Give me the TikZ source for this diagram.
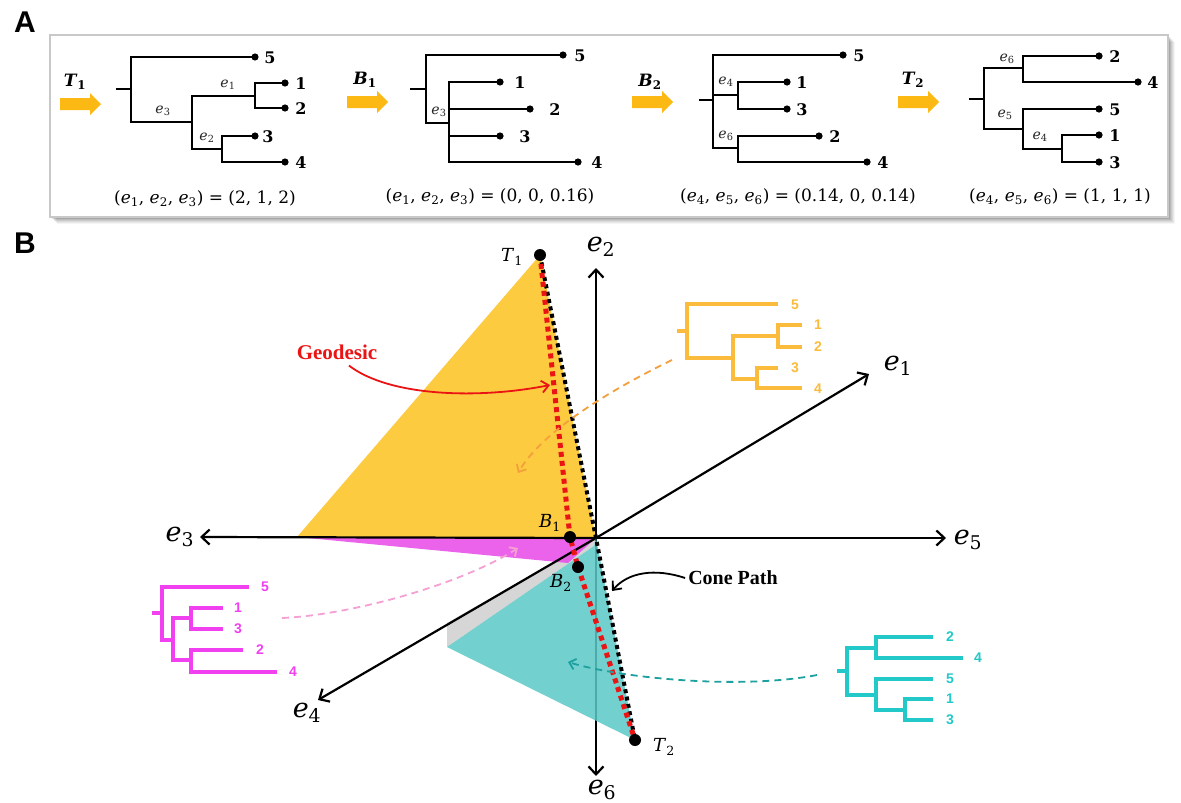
\documentclass[tikz,border=0pt]{standalone}
\usepackage{fontspec}
\setmainfont{DejaVu Serif}
\newfontfamily\hfont{Liberation Sans}
\newfontfamily\tfont{Liberation Serif}
\usetikzlibrary{arrows.meta}
\definecolor{arrowyellow}{RGB}{253,185,19}
\definecolor{yelfill}{RGB}{253,203,64}
\definecolor{magfill}{RGB}{233,78,233}
\definecolor{grayfill}{RGB}{214,214,214}
\definecolor{tealfill}{RGB}{90,201,199}
\definecolor{geored}{RGB}{235,20,20}
\definecolor{otree}{RGB}{251,187,60}
\definecolor{odash}{RGB}{243,160,60}
\definecolor{mtree}{RGB}{240,64,240}
\definecolor{mdash}{RGB}{245,160,210}
\definecolor{ttree}{RGB}{35,200,200}
\definecolor{tdash}{RGB}{30,160,160}
\definecolor{boxedge}{RGB}{200,200,200}
\newcommand\ev[1]{\textit{e}\textsubscript{#1}}
\newcommand\vr[2]{\textit{#1}\textsubscript{#2}}
\newcommand\Aleaf[5]{\fill (#2,#3) circle[radius=3.6];
  \node[leafA] (#1) at (#4,#3+1) {#5};}
\begin{document}
\begin{tikzpicture}[x=1pt,y=-1pt,line join=miter,
  treeA/.style={line width=2.8pt,black},
  leafA/.style={font=\fontsize{16}{16}\selectfont\bfseries,inner sep=0pt},
  elab/.style={font=\fontsize{14}{14}\selectfont,inner sep=0pt,text=black!85},
  capt/.style={font=\fontsize{17}{17}\selectfont,inner sep=0pt},
  steplab/.style={font=\fontsize{17}{17}\selectfont\bfseries,inner sep=0pt},
  panel/.style={font=\hfont\bfseries\fontsize{30}{30}\selectfont,inner sep=0pt},
  axisarr/.style={line width=2.2pt,-{Straight Barb[length=8pt,width=15pt]}},
  axlab/.style={font=\fontsize{27}{27}\selectfont,inner sep=0pt},
  treeB/.style={line width=3.2pt},
  leafB/.style={font=\hfont\bfseries\fontsize{14}{14}\selectfont,inner sep=0pt},
  bdot/.style={circle,fill=black,inner sep=0pt,minimum size=12pt},
  ptlab/.style={font=\fontsize{18}{18}\selectfont,inner sep=0pt},
  dasharr/.style={line width=1.8pt,dash pattern=on 7pt off 5pt,-{Straight Barb[length=6pt,width=11pt]}},
  blockarr/.pic={\fill[arrowyellow] (0,-6) -- (30,-6) -- (30,-11) -- (41,0) -- (30,11) -- (30,6) -- (0,6) -- cycle;}
]
\useasboundingbox (0,0) rectangle (1181,803);
\fill[white] (0,0) rectangle (1181,803);

%================ Panel A =================
\node[panel] (lA) at (25,22) {A};
\foreach \i/\o in {7/0.04,6/0.05,5/0.06,4/0.07,3/0.08,2/0.1}
  {\fill[black,opacity=\o] (50+\i,35+\i) rectangle (1168+\i,217+\i);}
\draw[boxedge,fill=white,line width=1.2pt] (50,35) rectangle (1168,217);

% step arrows and labels
\pic at (60,104) {blockarr};
\node[steplab] (sT1) at (75,82) {\vr{T}{1}};
\pic at (347,102) {blockarr};
\node[steplab] (sB1) at (365,80) {\vr{B}{1}};
\pic at (632,102) {blockarr};
\node[steplab] (sB2) at (650,82) {\vr{B}{2}};
\pic at (898,102) {blockarr};
\node[steplab] (sT2) at (913,80) {\vr{T}{2}};

% tree T1
\draw[treeA] (116,89) -- (131,89);
\draw[treeA] (255,57) -| (131,122) -- (192,122);
\draw[treeA] (255,96) -| (192,149) -- (222,149);
\draw[treeA] (285,83) -| (255,108) -- (285,108);
\draw[treeA] (255,136) -| (222,162) -- (285,162);
\Aleaf{a5}{255}{57}{270}{5}
\Aleaf{a1}{285}{83}{301}{1}
\Aleaf{a2}{285}{108}{301}{2}
\Aleaf{a3}{255}{136}{268}{3}
\Aleaf{a4}{285}{162}{301}{4}
\node[elab] (ae1) at (228,85) {\ev1};
\node[elab] (ae3) at (163,111) {\ev3};
\node[elab] (ae2) at (207,138) {\ev2};
\node[capt] (capA) at (205,199) {(\ev1, \ev2, \ev3) = (2, 1, 2)};

% tree B1
\draw[treeA] (410,89) -- (426,89);
\draw[treeA] (563,55) -| (426,123) -- (449,123);
\draw[treeA] (500,82) -| (449,162) -- (578,162);
\draw[treeA] (449,109) -- (530,109);
\draw[treeA] (449,136) -- (500,136);
\Aleaf{b5}{563}{55}{580}{5}
\Aleaf{b1}{500}{82}{520}{1}
\Aleaf{b2}{530}{109}{555}{2}
\Aleaf{b3}{500}{136}{525}{3}
\Aleaf{b4}{578}{162}{597}{4}
\node[elab] (be3) at (439,112) {\ev3};
\node[capt] (capB) at (490,197) {(\ev1, \ev2, \ev3) = (0, 0, 0.16)};

% tree B2
\draw[treeA] (699,100) -- (713,100);
\draw[treeA] (843,55) -| (713,148) -- (738,148);
\draw[treeA] (713,95) -- (738,95);
\draw[treeA] (787,82) -| (738,109) -- (787,109);
\draw[treeA] (819,136) -| (738,162) -- (867,162);
\Aleaf{c5}{843}{55}{859}{5}
\Aleaf{c1}{787}{82}{802}{1}
\Aleaf{c3}{787}{109}{802}{3}
\Aleaf{c2}{819}{136}{835}{2}
\Aleaf{c4}{867}{162}{883}{4}
\node[elab] (ce4) at (726,82) {\ev4};
\node[elab] (ce6) at (726,136) {\ev6};
\node[capt] (capC) at (798,197) {(\ev4, \ev5, \ev6) = (0.14, 0, 0.14)};

% tree T2
\draw[treeA] (969,99) -- (984,99);
\draw[treeA] (1023,68) -| (984,129) -- (1023,129);
\draw[treeA] (1099,56) -| (1023,82) -- (1138,82);
\draw[treeA] (1099,109) -| (1023,149) -- (1062,149);
\draw[treeA] (1099,135) -| (1062,162) -- (1099,162);
\Aleaf{d2}{1099}{56}{1115}{2}
\Aleaf{d4}{1138}{82}{1153}{4}
\Aleaf{d5}{1099}{109}{1115}{5}
\Aleaf{d1}{1099}{135}{1115}{1}
\Aleaf{d3}{1099}{162}{1115}{3}
\node[elab] (de6) at (1007,59) {\ev6};
\node[elab] (de5) at (1005,115) {\ev5};
\node[elab] (de4) at (1040,137) {\ev4};
\node[capt] (capD) at (1060,197) {(\ev4, \ev5, \ev6) = (1, 1, 1)};

%================ Panel B =================
\node[panel] (lB) at (25,243) {B};
\coordinate (O) at (596,538);
\coordinate (E2) at (596,268);
\coordinate (E6) at (596,776);
\coordinate (E3) at (200,537);
\coordinate (E5) at (946,538);
\coordinate (E1) at (869,374);
\coordinate (E4) at (318,700);
\coordinate (t1) at (540,255);
\coordinate (b1) at (570,537);
\coordinate (b2) at (578,567);
\coordinate (t2) at (635,740);
\coordinate (yl) at (297,537);
\coordinate (mt) at (568,563);
\coordinate (gl) at (447,623);
\coordinate (tl) at (447,647);
\coordinate (tt) at (594,546);

% regions
\fill[yelfill] (t1) -- (yl) -- (O) -- cycle;
\fill[grayfill] (O) -- (gl) -- (tl) -- (tt) -- cycle;
\fill[magfill,fill opacity=0.88] (yl) -- (O) -- (mt) -- cycle;

% axes
\draw[axisarr] (O) -- (E2);
\draw[axisarr] (O) -- (E6);
\draw[axisarr] (O) -- (E3);
\draw[axisarr] (O) -- (E5);
\draw[axisarr] (O) -- (E1);
\draw[axisarr] (O) -- (E4);
\node[axlab] (le2) at (601,247) {\ev2};
\node[axlab] (le6) at (602,790) {\ev6};
\node[axlab] (le3) at (180,537) {\ev3};
\node[axlab] (le5) at (968,540) {\ev5};
\node[axlab] (le1) at (898,366) {\ev1};
\node[axlab] (le4) at (307,713) {\ev4};

\fill[tealfill,fill opacity=0.85] (tl) -- (tt) -- (O) -- (t2) -- cycle;

% paths
\draw[black,line width=4pt,dash pattern=on 4pt off 3.5pt] (t1) -- (O) -- (t2);
\draw[geored,line width=5pt,dash pattern=on 5pt off 4pt] (t1) -- (b1) -- (b2) -- (t2);
\node[bdot] (T1) at (t1) {};
\node[bdot] (B1) at (b1) {};
\node[bdot] (B2) at (b2) {};
\node[bdot] (T2) at (t2) {};
\node[ptlab] (lT1) at (512,257) {\vr{T}{1}};
\node[ptlab] (lB1) at (550,523) {\vr{B}{1}};
\node[ptlab] (lB2) at (561,583) {\vr{B}{2}};
\node[ptlab] (lT2) at (664,747) {\vr{T}{2}};

% labels with arrows
\node[font=\tfont\bfseries\fontsize{21}{21}\selectfont,text=geored,inner sep=0pt] (geolab) at (337,352) {Geodesic};
\coordinate (geoend) at (550,385);
\draw[geored,line width=1.8pt,-{Straight Barb[length=7pt,width=12pt]}]
  ([shift={(12,6)}]geolab.south) .. controls (390,397) and (480,399) .. (geoend);
\node[font=\tfont\bfseries\fontsize{20}{20}\selectfont,inner sep=0pt] (conelab) at (733,578) {Cone Path};
\coordinate (coneend) at (612,591);
\draw[black,line width=1.8pt,-{Straight Barb[length=7pt,width=12pt]}]
  ([xshift=-3pt]conelab.west) .. controls (655,568) and (628,572) .. (coneend);

% orange tree
\begin{scope}[otree,treeB]
\draw (677,331) -- (687,331);
\draw (778,304) -| (687,358) -- (733,358);
\draw (778,336) -| (733,379) -- (757,379);
\draw (802,325) -| (778,347) -- (802,347);
\draw (778,368) -| (757,388) -- (802,388);
\end{scope}
\node[leafB,text=otree] (o5) at (795,305) {5};
\node[leafB,text=otree] (o1) at (818,325) {1};
\node[leafB,text=otree] (o2) at (818,347) {2};
\node[leafB,text=otree] (o3) at (795,368) {3};
\node[leafB,text=otree] (o4) at (818,389) {4};
\coordinate (ostart) at (672,360);
\coordinate (oend) at (518,473);
\draw[odash,dasharr] (ostart) .. controls (600,395) and (540,435) .. (oend);

% magenta tree
\begin{scope}[mtree,treeB]
\draw (152,613) -- (162,613);
\draw (249,587) -| (162,640) -- (173,640);
\draw (191,618) -| (173,660) -- (191,660);
\draw (223,608) -| (191,629) -- (223,629);
\draw (243,650) -| (191,672) -- (277,672);
\end{scope}
\node[leafB,text=mtree] (m5) at (265,587) {5};
\node[leafB,text=mtree] (m1) at (238,608) {1};
\node[leafB,text=mtree] (m3) at (238,629) {3};
\node[leafB,text=mtree] (m2) at (260,650) {2};
\node[leafB,text=mtree] (m4) at (293,672) {4};
\coordinate (mstart) at (282,618);
\coordinate (mend) at (518,548);
\draw[mdash,dasharr] (mstart) .. controls (350,615) and (460,585) .. (mend);

% teal tree
\begin{scope}[ttree,treeB]
\draw (837,671) -- (847,671);
\draw (876,648) -| (847,695) -- (876,695);
\draw (933,637) -| (876,658) -- (963,658);
\draw (933,679) -| (876,710) -- (905,710);
\draw (933,699) -| (905,720) -- (933,720);
\end{scope}
\node[leafB,text=ttree] (c2b) at (950,637) {2};
\node[leafB,text=ttree] (c4b) at (978,658) {4};
\node[leafB,text=ttree] (c5b) at (950,679) {5};
\node[leafB,text=ttree] (c1b) at (950,699) {1};
\node[leafB,text=ttree] (c3b) at (950,720) {3};
\coordinate (tstart) at (817,675);
\coordinate (tend) at (568,662);
\draw[tdash,dasharr] (tstart) .. controls (740,690) and (620,678) .. (tend);
\end{tikzpicture}
\end{document}
